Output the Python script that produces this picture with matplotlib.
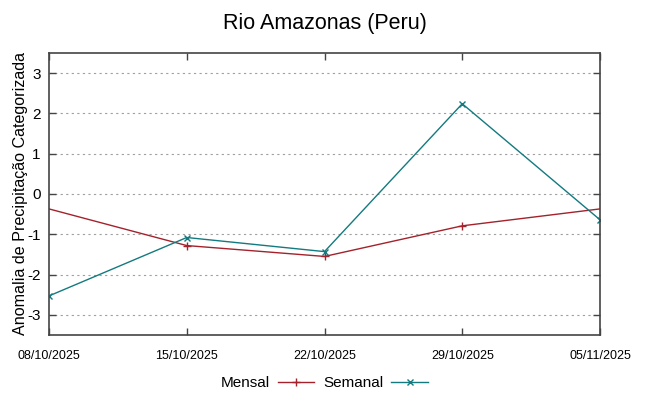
import matplotlib
matplotlib.use('Agg')
import matplotlib.pyplot as plt
import numpy as np
from datetime import datetime

# dados semanais e mensais
semanal_datas = ['08/10/2025', '15/10/2025', '22/10/2025', '29/10/2025', '05/11/2025']
semanal_vals = [-2.53, -1.08, -1.43, 2.24, -0.64]
mensal_datas = ['01/10/2025', '15/10/2025', '22/10/2025', '29/10/2025', '12/11/2025']
mensal_vals = [0.54, -1.28, -1.55, -0.79, 0.05]
xticks_lbl = ['08/10/2025', '15/10/2025', '22/10/2025', '29/10/2025', '05/11/2025']
yticks = [-3, -2, -1, 0, 1, 2, 3]

to_dt = lambda l: [datetime.strptime(s, '%d/%m/%Y') for s in l]

plt.rcParams['font.family'] = ['Liberation Sans', 'DejaVu Sans']

fig = plt.figure(figsize=(6.49, 3.96), dpi=100)
ax = fig.add_axes([49/649, 1-335/396, 551/649, 282/396])

ax.plot(to_dt(mensal_datas), mensal_vals, color='#a3222b', lw=1, marker='+', ms=6, mew=1, label='Mensal')
ax.plot(to_dt(semanal_datas), semanal_vals, color='#137a7f', lw=1, marker='x', ms=5, mew=1, label='Semanal')

xt = to_dt(xticks_lbl)
ax.set_xlim(xt[0], xt[-1])
ax.set_ylim(-3.5, 3.5)
ax.set_xticks(xt)
ax.set_xticklabels(xticks_lbl, fontsize=9)
ax.set_yticks(yticks)
ax.set_yticklabels([str(v) for v in yticks], fontsize=11)
ax.tick_params(direction='in', top=True, right=True, length=5, width=1, color='#444444')
ax.tick_params(axis='x', pad=11)
ax.tick_params(axis='y', pad=6)
ax.grid(axis='y', ls=(0, (2, 3)), color='#a0a0a0', lw=0.8)
for s in ax.spines.values():
    s.set_color('#444444')
    s.set_linewidth(1.2)

ax.set_title('Rio Amazonas (Peru)', fontsize=15.5, pad=17)
ax.set_ylabel('Anomalia de Precipitação Categorizada', fontsize=11.6, labelpad=-0.5)

ax.legend(loc='upper center', bbox_to_anchor=(0.5, -0.135), ncol=2, frameon=False,
          markerfirst=False, fontsize=11, handlelength=2.4, columnspacing=0.6, handletextpad=0.5,
          borderaxespad=0, borderpad=0.2)

plt.savefig('out.png', dpi=100)
